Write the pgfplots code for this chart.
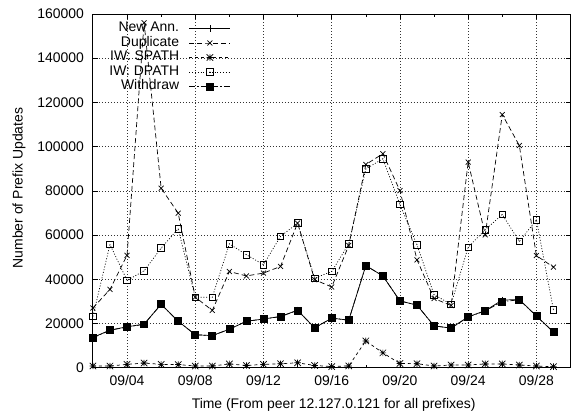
\documentclass[border=0pt]{standalone}
\usepackage{fontspec}
\setmainfont{Liberation Sans}
\usepackage{pgfplots}
\pgfplotsset{compat=1.18}

\pgfdeclareplotmark{gpstar}{%
  \pgfpathmoveto{\pgfqpoint{-\pgfplotmarksize}{0pt}}\pgfpathlineto{\pgfqpoint{\pgfplotmarksize}{0pt}}%
  \pgfpathmoveto{\pgfqpoint{0pt}{-\pgfplotmarksize}}\pgfpathlineto{\pgfqpoint{0pt}{\pgfplotmarksize}}%
  \pgfpathmoveto{\pgfqpoint{-\pgfplotmarksize}{-\pgfplotmarksize}}\pgfpathlineto{\pgfqpoint{\pgfplotmarksize}{\pgfplotmarksize}}%
  \pgfpathmoveto{\pgfqpoint{-\pgfplotmarksize}{\pgfplotmarksize}}\pgfpathlineto{\pgfqpoint{\pgfplotmarksize}{-\pgfplotmarksize}}%
  \pgfusepathqstroke}
\pgfdeclareplotmark{gpbox}{%
  \pgfpathrectangle{\pgfqpoint{-\pgfplotmarksize}{-\pgfplotmarksize}}{\pgfqpoint{2\pgfplotmarksize}{2\pgfplotmarksize}}%
  \pgfusepathqstroke
  \pgfpathcircle{\pgfqpoint{0pt}{0pt}}{0.4pt}\pgfusepathqfill}

\pgfplotstableread{
day newann dup spath dpath withdraw
2  13700 27000  750  23200 13500
3  17000 35400  750  55700 16900
4  18500 50800  1500 39500 18400
5  19700 156000 2100 43800 19600
6  28700 81200  1500 54100 28700
7  21000 69900  1400 62800 21000
8  14900 31900  750  31900 14900
9  14500 25900  750  31900 14500
10 17400 43500  1700 56000 17400
11 21000 41500  1000 51100 21000
12 22000 42800  1500 46600 22000
13 23200 45800  1800 59400 23100
14 26000 65400  2200 65400 25900
15 18000 39800  1000 40500 18000
16 22400 36500  500  43500 22400
17 21500 55300  800  56000 21500
18 46200 91900  12100 89900 46200
19 41500 96800  6700 94500 41500
20 30200 80100  1900 73800 30200
21 28300 48800  1800 55600 28300
22 18900 31300  750  33000 18900
23 17900 28100  1200 28700 17900
24 23000 93000  1200 54500 22900
25 25800 60100  1700 62400 25700
26 30600 114500 1700 69300 29900
27 30800 100500 1200 57100 30700
28 23400 50700  750  66900 23400
29 16100 45500  450  26200 16100
}\datatable

\begin{document}
\begin{tikzpicture}
\begin{axis}[
  scale only axis,
  width=478bp, height=354bp,
  xmin=2, xmax=30, ymin=0, ymax=160000,
  xtick={4,8,12,16,20,24,28},
  xticklabels={09/04,09/08,09/12,09/16,09/20,09/24,09/28},
  minor xtick={6,10,14,18,22,26},
  ytick={0,20000,40000,60000,80000,100000,120000,140000,160000},
  scaled y ticks=false,
  yticklabel style={/pgf/number format/fixed,/pgf/number format/1000 sep={},xshift=-5.5bp},
  xticklabel style={yshift=-4bp},
  /pgf/number format/assume math mode=true,
  tick label style={font=\fontsize{14}{14}\selectfont},
  tick align=inside, tick pos=both,
  major tick length=5bp, minor tick length=3bp,
  every tick/.style={black, line width=0.6bp},
  axis line style={line width=0.9bp},
  grid=major,
  major grid style={black!80, line width=0.5bp, dash pattern=on 1bp off 2bp},
  xlabel={Time (From peer 12.127.0.121 for all prefixes)},
  ylabel={Number of Prefix Updates},
  every axis x label/.style={at={(rel axis cs:0.504,0)}, anchor=center, yshift=-37bp, font=\fontsize{14}{14}\selectfont},
  every axis y label/.style={at={(rel axis cs:-0.1548,0.508)}, rotate=90, anchor=center, font=\fontsize{14}{14}\selectfont},
  legend plot pos=right,
  legend cell align=right,
  legend image code/.code={\draw[mark repeat=2,mark phase=2] plot coordinates {(0bp,0bp)(20.5bp,0bp)(41bp,0bp)};},
  legend style={draw=none, fill=none, at={(0.289,0.98)}, anchor=north east,
    font=\fontsize{14}{14}\selectfont, row sep=0bp, column sep=10bp, inner sep=0bp,
    nodes={inner sep=0bp, text height=10.5bp, text depth=4bp}},
  every axis plot/.append style={black, line width=0.7bp, mark options={solid, line width=0.7bp}},
]
\coordinate (sw) at (rel axis cs:0,0);
\coordinate (ne) at (rel axis cs:1,1);
\addplot[solid, mark=+, mark size=3.5bp] table[x=day,y=newann]{\datatable};
\addlegendentry{New Ann.}
\addplot[dash pattern=on 5bp off 3bp, mark=x, mark size=3.5bp] table[x=day,y=dup]{\datatable};
\addlegendentry{Duplicate}
\addplot[dash pattern=on 3bp off 3bp, mark=gpstar, mark size=3.2bp] table[x=day,y=spath]{\datatable};
\addlegendentry{IW: SPATH}
\addplot[dash pattern=on 1bp off 1.8bp, mark=gpbox, mark size=3.3bp] table[x=day,y=dpath]{\datatable};
\addlegendentry{IW: DPATH}
\addplot[dash pattern=on 6bp off 2bp on 1.5bp off 2bp, mark=square*, mark size=3.5bp] table[x=day,y=withdraw]{\datatable};
\addlegendentry{Withdraw}
\end{axis}
\pgfresetboundingbox
\path[use as bounding box] ([shift={(-93bp,-49bp)}]sw) rectangle ([shift={(0.5bp,14bp)}]ne);
\end{tikzpicture}
\end{document}
